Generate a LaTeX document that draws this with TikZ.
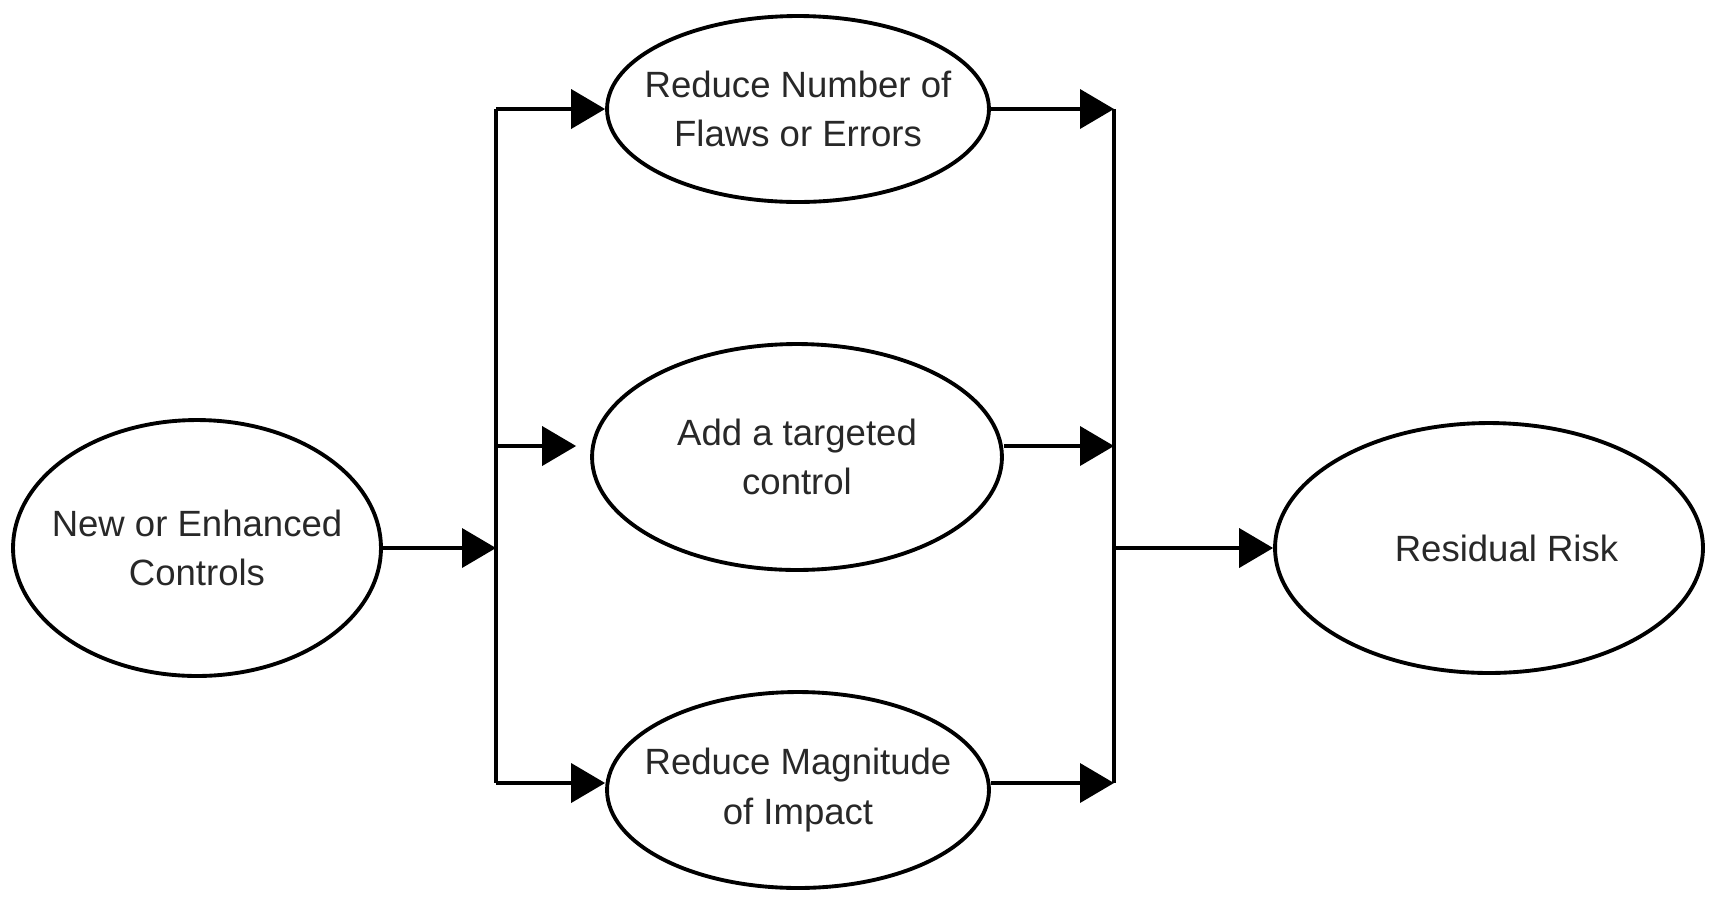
\documentclass[tikz,border=0pt]{standalone}
\usepackage{fontspec}
\setmainfont{Liberation Sans}
\usetikzlibrary{shapes.geometric,arrows.meta}
\definecolor{mytext}{RGB}{40,40,40}

\begin{document}
\begin{tikzpicture}[x=0.02cm, y=-0.02cm,
  oval/.style={draw, ellipse, line width=2.2pt, inner xsep=-1.5cm, inner ysep=0pt,
    align=center, text=mytext, font=\fontsize{20.8}{28}\selectfont},
  arr/.style={line width=2.2pt, -{Triangle[length=0.68cm, width=0.78cm]}},
  bus/.style={line width=2.2pt}]
\useasboundingbox (0,0) rectangle (1709,897);
% Create the ovals
\node[oval, minimum width=7.36cm, minimum height=5.12cm] (controls) at (197,548) {New or Enhanced\\Controls};
\node[oval, minimum width=7.64cm, minimum height=3.72cm] (flaws) at (798,109) {Reduce Number of\\Flaws or Errors};
\node[oval, minimum width=8.2cm, minimum height=4.52cm] (targeted) at (797,457) {Add a targeted\\control};
\node[oval, minimum width=7.64cm, minimum height=3.92cm] (impact) at (798,790) {Reduce Magnitude\\of Impact};
\node[oval, minimum width=8.56cm, minimum height=5cm] (residual) at (1489,548) {\hspace*{0.7cm}Residual Risk};

% Bus points
\coordinate (lt) at (496,109);
\coordinate (lm) at (496,548);
\coordinate (lmid) at (496,446);
\coordinate (lb) at (496,783);
\coordinate (rt) at (1114,109);
\coordinate (rm) at (1114,548);
\coordinate (rmid) at (1114,446);
\coordinate (rb) at (1114,783);

% Connections
\draw[bus] (lt) -- (lb);
\draw[bus] (rt) -- (rb);
\draw[arr] (controls.east) -- (lm);
\draw[arr] (lt) -- (flaws.west);
\draw[arr, shorten >=0.28cm] (lmid) -- (lmid -| targeted.west);
\draw[arr] (lb) -- (lb -| impact.west);
\draw[arr] (flaws.east) -- (rt);
\draw[arr] (rmid -| targeted.east) -- (rmid);
\draw[arr] (rb -| impact.east) -- (rb);
\draw[arr] (rm) -- (residual.west);
\end{tikzpicture}
\end{document}
